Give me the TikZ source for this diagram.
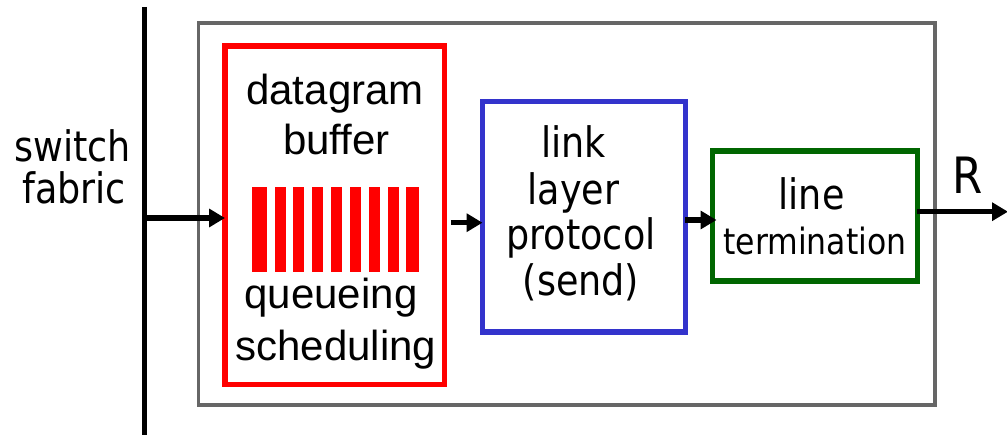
\documentclass[tikz,border=0pt]{standalone}
\usepackage{fontspec}
\usetikzlibrary{arrows.meta}
\newfontfamily\tah[FakeStretch=0.87]{DejaVu Sans}
\newfontfamily\ari{Liberation Sans}
\definecolor{bxred}{HTML}{FF0000}
\definecolor{bxblue}{HTML}{3333CC}
\definecolor{bxgreen}{HTML}{006600}
\definecolor{bxgray}{HTML}{666666}
\begin{document}
\begin{tikzpicture}[x=0.02cm,y=-0.02cm,
  box/.style={draw,line width=2.9pt,outer sep=0pt,inner sep=0pt},
  arr/.style={line width=3pt,-{Triangle[length=9pt,width=10pt]}},
  fabline/.style={line width=3.2pt},
  lbl/.style={anchor=base,inner sep=0pt,outer sep=0pt},
  tahbig/.style={font=\tah\fontsize{23.9}{28}\selectfont},
  tahsmall/.style={font=\tah\fontsize{20.6}{24}\selectfont},
  tahR/.style={font=\tah\fontsize{28.5}{32}\selectfont},
  arbig/.style={font=\ari\fontsize{23.9}{28}\selectfont}]
\useasboundingbox (0,0) rectangle (1007,435);
% outer gray box
\node[box,draw=bxgray,line width=2.1pt,minimum width=14.73cm,minimum height=7.64cm] (port) at (566.75,214) {};
% switch fabric line
\coordinate (ftop) at (144.5,7);
\coordinate (fbot) at (144.5,440);
\coordinate (j1) at (144.5,218);
\draw[fabline] (ftop) -- (fbot);
% boxes
\node[box,draw=bxred,minimum width=4.39cm,minimum height=6.77cm] (buf) at (334.75,215.25) {};
\node[box,draw=bxblue,minimum width=4.056cm,minimum height=4.61cm] (llp) at (583.9,216.75) {};
\node[box,draw=bxgreen,minimum width=4.1cm,minimum height=2.6cm] (lt) at (815,216) {};
% queue bars
\foreach \a/\b in {252/267,275/286,293/304,312/323,331/342,350/361,369/380,388/398.5,406/419}
  \fill[bxred] (\a,187.5) rectangle (\b,271.7);
% texts
\node[lbl,tahbig] (sw) at (72.5,161.7) {switch};
\node[lbl,tahbig] (fab) at (74,203.3) {fabric};
\node[lbl,arbig] (t1) at (335,105) {datagram};
\node[lbl,arbig] (t2) at (336.5,155) {buffer};
\node[lbl,arbig] (t3) at (331,308.5) {queueing};
\node[lbl,arbig] (t4) at (336,360) {scheduling};
\node[lbl,tahbig] (b1) at (573.5,158) {link};
\node[lbl,tahbig] (b2) at (573.5,204.5) {layer};
\node[lbl,tahbig] (b3) at (581,250) {protocol};
\node[lbl,tahbig] (b4) at (581,295.5) {(send)};
\node[lbl,tahbig] (g1) at (811.5,210) {line};
\node[lbl,tahsmall] (g2) at (815,255) {termination};
\node[lbl,tahR] (R) at (968,193.3) {R};
% arrows
\coordinate (out) at (1008,211.7);
\draw[arr] (j1) -- (j1 -| buf.west);
\draw[arr] ([xshift=0.13cm]buf.east |- 0,222.7) -- (llp.west |- 0,222.7);
\draw[arr] (llp.east |- 0,220) -- ([xshift=0.08cm]lt.west |- 0,220);
\draw[arr] (lt.east |- out) -- (out);
\end{tikzpicture}
\end{document}
